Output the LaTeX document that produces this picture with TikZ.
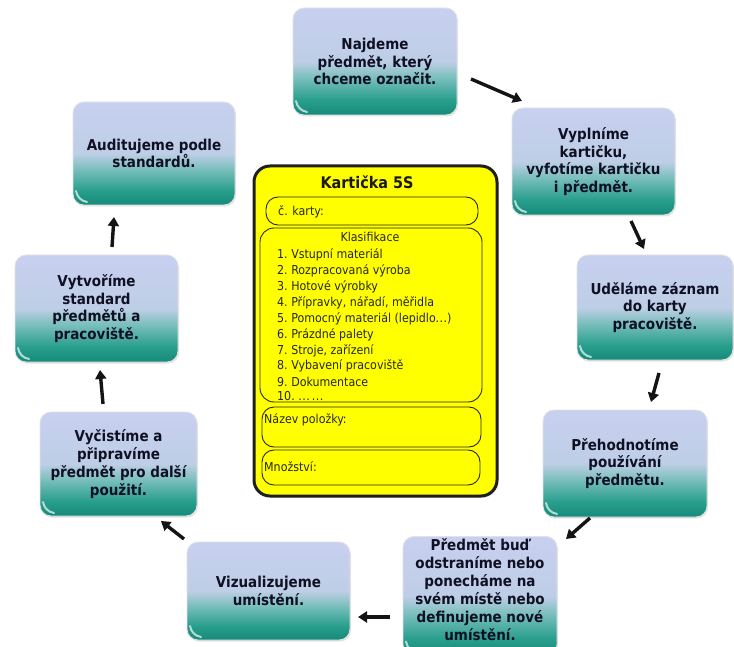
\documentclass[tikz,border=0pt]{standalone}
\usepackage{fontspec}
\setmainfont{DejaVu Sans Condensed}
\usetikzlibrary{arrows.meta,shadows}

% colours of the step boxes and of the card
\definecolor{lavT}{RGB}{200,208,240}
\definecolor{lavM}{RGB}{190,206,230}
\definecolor{mixC}{RGB}{118,190,186}
\definecolor{tealM}{RGB}{40,158,140}
\definecolor{tealD}{RGB}{22,138,122}
\definecolor{ink}{RGB}{16,16,36}
\definecolor{cardY}{RGB}{255,255,0}
\definecolor{rimC}{RGB}{40,40,20}

% lavender on top, teal at the bottom
\pgfdeclareverticalshading{stepshade}{100bp}{%
  color(0bp)=(tealD); color(25bp)=(tealD); color(32bp)=(tealM);
  color(42bp)=(mixC); color(50bp)=(lavM); color(75bp)=(lavT); color(100bp)=(lavT)}

\newcommand\threedots{.\kern0.5pt.\kern0.5pt.}

\begin{document}
\begin{tikzpicture}[x=1pt,y=-1pt,
  stepbox/.style={rectangle, rounded corners=11pt, shading=stepshade,
    draw=white!78!gray, line width=0.8pt,
    drop shadow={opacity=0.22, shadow xshift=1pt, shadow yshift=-1.5pt},
    text=ink, font=\bfseries\fontsize{15}{17.8}\selectfont, align=center, inner sep=2pt,
    path picture={\draw[white!65!tealM, line width=2pt, line cap=round]
      ([xshift=3pt,yshift=14pt]path picture bounding box.south west)
      to[bend right=35] ([xshift=14pt,yshift=3pt]path picture bounding box.south west);}},
  flow/.style={draw=black!92, line width=3.4pt, -{Triangle[length=9pt,width=11pt]}},
  field/.style={draw=rimC, line width=0.9pt, fill=cardY, rounded corners=12pt, inner sep=0pt},
  small/.style={font=\fontsize{12.3}{14}\selectfont, text=black!85, inner sep=0pt},
]
\useasboundingbox (0,0) rectangle (734,647);

% the nine steps of the cycle
\node[stepbox, minimum width=164pt, minimum height=107pt] (b1) at (375,61.5)
  {Najdeme\\předmět, který\\chceme označit.};
\node[stepbox, minimum width=163pt, minimum height=107pt] (b2) at (593.5,161.5)
  {Vyplníme\\kartičku,\\vyfotíme kartičku\\i předmět.};
\node[stepbox, minimum width=156pt, minimum height=105pt] (b3) at (655,307.5)
  {Uděláme záznam\\do karty\\pracoviště.};
\node[stepbox, minimum width=164pt, minimum height=107pt] (b4) at (625,463.5)
  {Přehodnotíme\\používání\\předmětu.};
\node[stepbox, minimum width=154pt, minimum height=108pt,
      font=\bfseries\fontsize{15}{18.1}\selectfont] (b5) at (480,596)
  {Předmět buď\\odstraníme nebo\\ponecháme na\\svém místě nebo\\definujeme nové\\umístění.\\[-11pt]\strut};
\node[stepbox, minimum width=163pt, minimum height=98pt] (b6) at (268.5,591)
  {Vizualizujeme\\umístění.};
\node[stepbox, minimum width=157pt, minimum height=104pt] (b7) at (118.5,464)
  {Vyčistíme a\\připravíme\\předmět pro další\\použití.};
\node[stepbox, minimum width=163pt, minimum height=107pt] (b8) at (96.5,308.5)
  {Vytvoříme\\standard\\předmětů a\\pracoviště.};
\node[stepbox, minimum width=162pt, minimum height=103pt] (b9) at (154,153.5)
  {Auditujeme podle\\standardů.};

% short arrows between the steps
\coordinate (a1s) at (471,79);  \coordinate (a1e) at (522,101);
\coordinate (a2s) at (631,221); \coordinate (a2e) at (644,249);
\coordinate (a3s) at (659,373); \coordinate (a3e) at (651,402);
\coordinate (a4s) at (590,518); \coordinate (a4e) at (566,539);
\coordinate (a5s) at (390,617); \coordinate (a5e) at (358,617);
\coordinate (a6s) at (184,539); \coordinate (a6e) at (161,521);
\coordinate (a7s) at (103,404); \coordinate (a7e) at (100,370);
\coordinate (a8s) at (112,247); \coordinate (a8e) at (114,217);
\foreach \k in {1,2,3,4,5,6,7,8} \draw[flow] (a\k s) -- (a\k e);

% the 5S card
\node[draw=black!88, line width=3pt, fill=cardY, rounded corners=16pt,
      minimum width=243pt, minimum height=330pt,
      drop shadow={opacity=0.25, shadow xshift=1.5pt, shadow yshift=-1.5pt}] (card) at (375.5,331) {};
\node[font=\bfseries\fontsize{16}{18}\selectfont, text=black!90] (title) at (367,182) {Kartička 5S};

\node[field, minimum width=212pt, minimum height=28pt] (nocard) at (372,211) {};
\node[small, anchor=west] (nolabel) at (278,212) {č. karty:};

\node[field, rounded corners=14pt, minimum width=222pt, minimum height=174pt] (klas) at (371,315) {};
\node[small] (klastitle) at (370,237) {Klasifikace};
\begin{scope}
  \clip[rounded corners=13pt] ([xshift=1pt,yshift=1.5pt]klas.south west) rectangle ([xshift=-1pt,yshift=-1pt]klas.north east);
  \node[small, anchor=west] (item1)  at (277,255.0) {1.~Vstupní materiál};
  \node[small, anchor=west] (item2)  at (277,270.9) {2.~Rozpracovaná výroba};
  \node[small, anchor=west] (item3)  at (277,286.8) {3.~Hotové výrobky};
  \node[small, anchor=west] (item4)  at (277,302.7) {4.~Přípravky, nářadí, měřidla};
  \node[small, anchor=west] (item5)  at (277,318.6) {5.~Pomocný materiál (lepidlo\threedots)};
  \node[small, anchor=west] (item6)  at (277,334.5) {6.~Prázdné palety};
  \node[small, anchor=west] (item7)  at (277,350.4) {7.~Stroje, zařízení};
  \node[small, anchor=west] (item8)  at (277,366.3) {8.~Vybavení pracoviště};
  \node[small, anchor=west] (item9)  at (277,382.2) {9.~Dokumentace};
  \node[small, anchor=west] (item10) at (277,396.3) {10.~\threedots\,\threedots};
\end{scope}

\node[field, minimum width=219pt, minimum height=40pt] (nazev) at (371.5,427) {};
\node[small, anchor=west] (nazevlabel) at (264,420) {Název položky:};

\node[field, minimum width=218pt, minimum height=35pt] (mnoz) at (371,467.5) {};
\node[small, anchor=west] (mnozlabel) at (264,467) {Množství:};
\end{tikzpicture}
\end{document}
